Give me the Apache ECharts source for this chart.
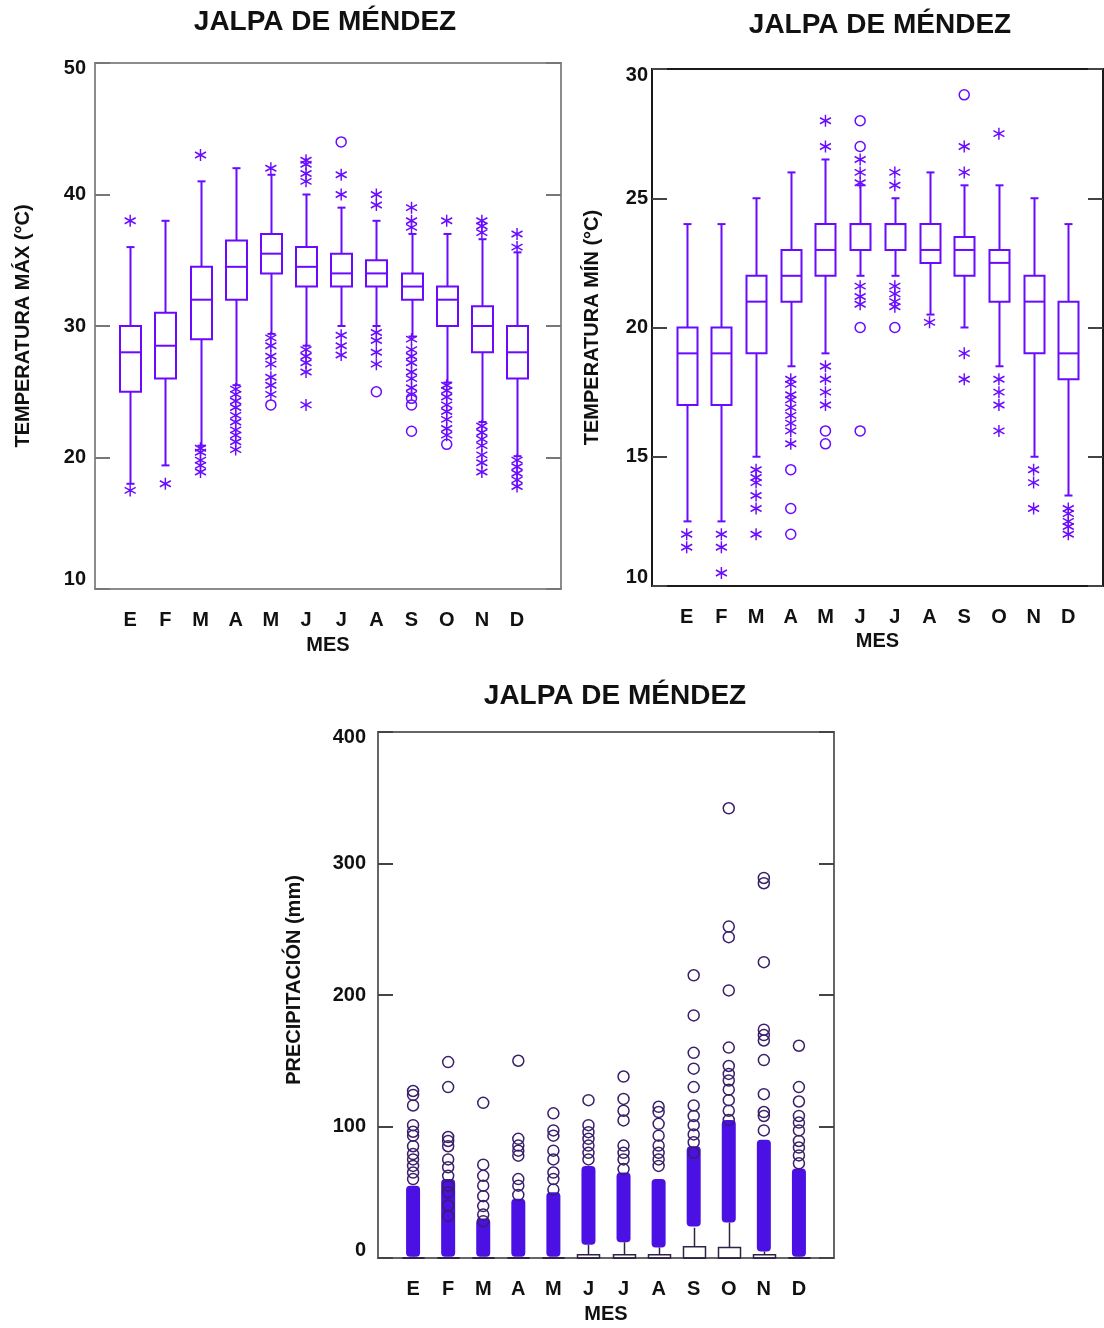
<!DOCTYPE html>
<html><head><meta charset="utf-8">
<script src="https://cdn.jsdelivr.net/npm/echarts@6/dist/echarts.min.js"></script>
<style>html,body{margin:0;padding:0;background:#fff}#c{width:1104px;height:1328px}</style>
</head><body><div id="c"></div>
<script>
// ---------- DATA ----------
const months = ['E','F','M','A','M','J','J','A','S','O','N','D'];
const titleText = 'JALPA DE MÉNDEZ';

// Temperatura máxima (°C)
const tmaxLow  = [18, 19.4, 20.9, 25.5, 29.4, 28.5, 30, 30, 29.2, 25.7, 22.7, 20.1];
const tmaxQ1   = [25, 26, 29, 32, 34, 33, 33, 33, 32, 30, 28, 26];
const tmaxMed  = [28, 28.5, 32, 34.5, 35.5, 34.5, 34, 34, 33, 32, 30, 28];
const tmaxQ3   = [30, 31, 34.5, 36.5, 37, 36, 35.5, 35, 34, 33, 31.5, 30];
const tmaxHigh = [36, 38, 41, 42, 41.5, 40, 39, 38, 37, 37, 36.6, 35.6];
const tmaxStars = [
  [38, 17.5], [18], [43, 20.7, 20.4, 19.8, 19.4, 18.9],
  [25.2, 24.8, 24.3, 23.8, 23.2, 22.7, 22.1, 21.7, 21.2, 20.6],
  [42, 29.1, 28.5, 27.7, 27.1, 26.1, 25.5, 24.8],
  [42.6, 42.3, 41.6, 41, 28.2, 27.7, 27.2, 26.5, 24],
  [41.5, 40, 29.3, 28.5, 27.8],
  [40, 39.2, 29.5, 28.9, 28, 27.1],
  [39, 38, 37.5, 29, 28.2, 27.7, 27.2, 26.5, 26, 25.3, 24.8],
  [38, 25.5, 25.1, 24.6, 24, 23.5, 22.9, 22.2, 21.7],
  [38, 37.6, 37.1, 22.4, 21.9, 21.4, 20.9, 20.2, 19.6, 18.9],
  [37, 36, 19.8, 19.3, 18.8, 18.3, 17.8]
];
const tmaxCircles = [[], [], [], [], [24], [], [44], [25], [24.5, 24, 22], [21], [], []];
const tmaxTicks = [10, 20, 30, 40, 50];

// Temperatura mínima (°C)
const tminLow  = [12.5, 12.5, 15, 18.5, 19, 22, 22, 20.5, 20, 18.5, 15, 13.5];
const tminQ1   = [17, 17, 19, 21, 22, 23, 23, 22.5, 22, 21, 19, 18];
const tminMed  = [19, 19, 21, 22, 23, 24, 24, 23, 23, 22.5, 21, 19];
const tminQ3   = [20, 20, 22, 23, 24, 24, 24, 24, 23.5, 23, 22, 21];
const tminHigh = [24, 24, 25, 26, 26.5, 25.5, 25, 26, 25.5, 25.5, 25, 24];
const tminStars = [
  [12, 11.5], [12, 11.5, 10.5], [14.5, 14.2, 14, 13.5, 13, 12],
  [18, 17.8, 17.4, 17.2, 16.9, 16.6, 16.3, 16, 15.5],
  [27, 28, 18.5, 18, 17.5, 17],
  [25.6, 26, 26.5, 21.6, 21.2, 20.9],
  [25.5, 26, 21.6, 21.3, 21.0, 20.8],
  [20.2],
  [26, 27, 19, 18],
  [27.5, 18, 17.5, 17, 16],
  [14.5, 14, 13],
  [13, 12.8, 12.5, 12.3, 12]
];
const tminCircles = [[], [], [], [14.5, 13, 12], [16, 15.5], [27, 28, 20, 16], [20], [], [29], [], [], []];
const tminTicks = [10, 15, 20, 25, 30];

// Precipitación (mm)
const precLow  = [0, 0, 0, 0, 0, 0, 0, 0, 0, 0, 0, 0];
const precQ1   = [0, 0, 0, 0, 0, 0, 0, 0, 0, 0, 0, 0];
const precMed  = [0, 0, 0, 0, 0, 0, 0, 0, 0, 0, 0, 0];
const precQ3   = [0, 0, 0, 0, 0, 2.5, 2.5, 2.5, 8.5, 8, 2.5, 0];
const precHigh = [1, 0, 0, 0, 0, 10, 12, 8, 23, 27, 5, 1];
const precDenseLow  = [1, 1, 1, 1, 1, 10, 12, 8, 24, 27, 5, 1];
const precDenseHigh = [55, 60, 30, 45, 50, 70, 65, 60, 85, 105, 90, 68];
const precCircles = [
  [127, 124, 116, 101, 96, 93, 85, 79, 75, 70, 65, 60],
  [149, 130, 92, 89, 85, 75, 69, 62.5, 55, 50, 40, 32],
  [118, 71, 62.5, 55, 47, 39.5, 33, 28],
  [150, 90.6, 85.5, 81.6, 77.8, 60, 55, 48],
  [110, 97, 93, 81.6, 75, 65, 60, 52],
  [120, 101, 95.7, 90.6, 85.5, 80, 75],
  [138, 121, 112, 104.6, 85.5, 80, 75, 67.6],
  [115, 111, 102, 93, 85.5, 80, 75, 70],
  [215, 184.5, 156, 144, 130, 116, 108, 101, 94, 88, 80],
  [342, 252, 244, 203.5, 160, 146, 140, 135, 128, 120, 112, 105],
  [289, 285, 225, 173.6, 169.5, 165.4, 150.5, 124.6, 111, 108, 97],
  [161.4, 130, 119, 108, 103, 97, 89, 84, 78, 72]
];
const precTicks = [0, 100, 200, 300, 400];

// ---------- HELPERS ----------
const FONT = '"Liberation Sans", Arial, sans-serif';
const VIOLET = '#6a0aff';
const STAR = 'path://M0,-6L0,6M-5.2,-3L5.2,3M-5.2,3L5.2,-3';

function boxRows(lo, q1, md, q3, hi) {
  return months.map((m, i) => [i + 1, lo[i], q1[i], md[i], q3[i], hi[i]]);
}
function flatPts(lists) {
  const out = [];
  lists.forEach((vals, i) => vals.forEach(v => out.push([i + 1, v])));
  return out;
}
function boxRenderer(color, boxW, capW, lw) {
  return function (params, api) {
    const x = api.value(0);
    const lo = api.coord([x, api.value(1)]);
    const q1 = api.coord([x, api.value(2)]);
    const md = api.coord([x, api.value(3)]);
    const q3 = api.coord([x, api.value(4)]);
    const hi = api.coord([x, api.value(5)]);
    const cx = Math.round(lo[0]) + 0.5, h = boxW / 2, c = capW / 2;
    const st = { stroke: color, lineWidth: lw, fill: null };
    return { type: 'group', children: [
      { type: 'line', shape: { x1: cx, y1: lo[1], x2: cx, y2: q1[1] }, style: st },
      { type: 'line', shape: { x1: cx, y1: q3[1], x2: cx, y2: hi[1] }, style: st },
      { type: 'line', shape: { x1: cx - c, y1: lo[1], x2: cx + c, y2: lo[1] }, style: st },
      { type: 'line', shape: { x1: cx - c, y1: hi[1], x2: cx + c, y2: hi[1] }, style: st },
      { type: 'rect', shape: { x: cx - h, y: q3[1], width: boxW, height: Math.max(q1[1] - q3[1], 0) }, style: { stroke: color, lineWidth: lw, fill: '#fff' } },
      { type: 'line', shape: { x1: cx - h, y1: md[1], x2: cx + h, y2: md[1] }, style: st }
    ] };
  };
}
function denseRenderer(color, w) {
  return function (params, api) {
    const x = api.value(0);
    const a = api.coord([x, api.value(1)]);
    const b = api.coord([x, api.value(2)]);
    return { type: 'rect', shape: { x: a[0] - w / 2, y: b[1], width: w, height: a[1] - b[1], r: 4 }, style: { fill: color } };
  };
}
const lblStyle = { fontFamily: FONT, fontWeight: 'bold', fontSize: 20, color: '#111' };
function yLeft(gi, ticks, tickColor, margin, name, nameGap, namePad, topPad, botPad) {
  const mn = ticks[0], mx = ticks[ticks.length - 1];
  return {
    type: 'value', gridIndex: gi, position: 'left', min: mn, max: mx, interval: ticks[1] - ticks[0],
    axisLine: { show: false }, splitLine: { show: false },
    axisTick: { show: true, inside: true, length: 15, lineStyle: { color: tickColor, width: 2 } },
    axisLabel: Object.assign({ margin: margin,
      formatter: v => v === mx ? '{t|' + v + '}' : v === mn ? '{b|' + v + '}' : String(v),
      rich: { t: Object.assign({ padding: [topPad, 0, 0, 0] }, lblStyle), b: Object.assign({ padding: [0, 0, botPad, 0] }, lblStyle) }
    }, lblStyle),
    name: name, nameLocation: 'middle', nameGap: nameGap,
    nameTextStyle: Object.assign({ padding: namePad }, lblStyle)
  };
}
function yRight(gi, ticks, tickColor) {
  return {
    type: 'value', gridIndex: gi, position: 'right', min: ticks[0], max: ticks[ticks.length - 1], interval: ticks[1] - ticks[0],
    axisLine: { show: false }, splitLine: { show: false }, axisLabel: { show: false },
    axisTick: { show: true, inside: true, length: 15, lineStyle: { color: tickColor, width: 2 } }
  };
}
function xAxis(gi, max, gap) {
  return {
    type: 'value', gridIndex: gi, min: 0, max: max, interval: 1,
    axisLine: { show: false }, axisTick: { show: false }, splitLine: { show: false },
    axisLabel: Object.assign({ margin: 21, showMaxLabel: false, showMinLabel: false, formatter: v => months[v - 1] || '' }, lblStyle),
    name: 'MES', nameLocation: 'middle', nameGap: gap, nameTextStyle: lblStyle
  };
}
function outlierSeries(gi, data, kind, color, size) {
  return {
    type: 'scatter', xAxisIndex: gi, yAxisIndex: gi * 2, data: data, silent: true,
    symbol: kind === 'star' ? STAR : 'circle',
    symbolSize: kind === 'star' ? [11, 12] : (size || 10),
    itemStyle: { color: kind === 'star' ? color : 'rgba(0,0,0,0)', borderColor: color, borderWidth: 1.5, opacity: 1 }
  };
}

// ---------- CHART ----------
const chart = echarts.init(document.getElementById('c'), null, { renderer: 'canvas' });
const titleStyle = { fontFamily: FONT, fontWeight: 'bold', fontSize: 28, color: '#111' };
chart.setOption({
  animation: false,
  backgroundColor: '#fff',
  title: [
    { text: titleText, left: 325, top: 8, textAlign: 'center', padding: 0, textStyle: titleStyle },
    { text: titleText, left: 880, top: 11, textAlign: 'center', padding: 0, textStyle: titleStyle },
    { text: titleText, left: 615, top: 682, textAlign: 'center', padding: 0, textStyle: titleStyle }
  ],
  grid: [
    { left: 95, top: 63, width: 466, height: 526, show: true, borderColor: '#8c8c8c', borderWidth: 2 },
    { left: 652, top: 69, width: 451, height: 517, show: true, borderColor: '#1a1a1a', borderWidth: 2 },
    { left: 378, top: 732, width: 456, height: 526, show: true, borderColor: '#666', borderWidth: 2 }
  ],
  xAxis: [xAxis(0, 13.25, 46), xAxis(1, 13, 45), xAxis(2, 13, 46)],
  yAxis: [
    yLeft(0, tmaxTicks, '#777', 9, 'TEMPERATURA MÁX (°C)', 62, [0, 0, 0, 0], 10, 20), yRight(0, tmaxTicks, '#777'),
    yLeft(1, tminTicks, '#444', 4, 'TEMPERATURA MÍN (°C)', 50, [0, 0, 0, 0], 12, 18), yRight(1, tminTicks, '#444'),
    yLeft(2, precTicks, '#444', 12, 'PRECIPITACIÓN (mm)', 74, [0, 0, 0, 30], 10, 16), yRight(2, precTicks, '#444')
  ],
  series: [
    { type: 'custom', xAxisIndex: 0, yAxisIndex: 0, data: boxRows(tmaxLow, tmaxQ1, tmaxMed, tmaxQ3, tmaxHigh),
      encode: { x: 0, y: [1, 2, 3, 4, 5] }, renderItem: boxRenderer(VIOLET, 21, 8, 2), silent: true },
    outlierSeries(0, flatPts(tmaxStars), 'star', VIOLET),
    outlierSeries(0, flatPts(tmaxCircles), 'circle', VIOLET),
    { type: 'custom', xAxisIndex: 1, yAxisIndex: 2, data: boxRows(tminLow, tminQ1, tminMed, tminQ3, tminHigh),
      encode: { x: 0, y: [1, 2, 3, 4, 5] }, renderItem: boxRenderer(VIOLET, 20, 8, 2), silent: true },
    outlierSeries(1, flatPts(tminStars), 'star', VIOLET),
    outlierSeries(1, flatPts(tminCircles), 'circle', VIOLET),
    { type: 'custom', xAxisIndex: 2, yAxisIndex: 4, data: boxRows(precLow, precQ1, precMed, precQ3, precHigh),
      encode: { x: 0, y: [1, 2, 3, 4, 5] }, renderItem: boxRenderer('#2e2245', 22, 0, 1.5), silent: true },
    { type: 'custom', xAxisIndex: 2, yAxisIndex: 4, data: months.map((m, i) => [i + 1, precDenseLow[i], precDenseHigh[i]]),
      encode: { x: 0, y: [1, 2] }, renderItem: denseRenderer('#4a10e4', 14), silent: true },
    outlierSeries(2, flatPts(precCircles), 'circle', '#3a1f6a', 11)
  ]
});
</script></body></html>
